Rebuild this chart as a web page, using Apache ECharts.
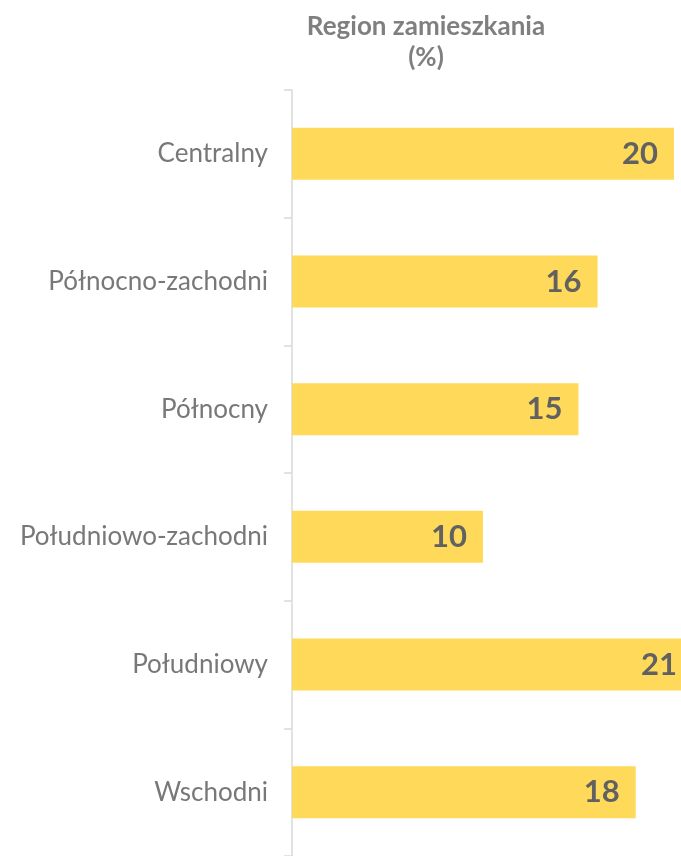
<!DOCTYPE html>
<html>
<head>
<meta charset="utf-8">
<script src="https://cdn.jsdelivr.net/npm/echarts@6/dist/echarts.min.js"></script>
<style>
html, body { margin: 0; padding: 0; background: #fff; }
#chart { width: 681px; height: 856px; }
</style>
</head>
<body>
<div id="chart"></div>
<script>
var categories = ['Centralny', 'Północno-zachodni', 'Północny', 'Południowo-zachodni', 'Południowy', 'Wschodni'];
var values = [20, 16, 15, 10, 21, 18];

var chart = echarts.init(document.getElementById('chart'));

var option = {
	animation: false,
	title: {
		text: 'Region zamieszkania\n(%)',
		left: 421,
		top: 6,
		textAlign: 'center',
		textStyle: {
			fontFamily: 'Lato',
			fontSize: 26,
			fontWeight: 'bold',
			color: '#7f7f7f',
			lineHeight: 31
		}
	},
	grid: {
		left: 292,
		right: 0,
		top: 90,
		bottom: 0,
		containLabel: false
	},
	xAxis: {
		type: 'value',
		min: 0,
		max: 20.37, // 21 runs past the right edge, as in the source
		show: false
	},
	yAxis: {
		type: 'category',
		data: categories,
		inverse: true,
		axisLine: {
			show: true,
			lineStyle: { color: '#d9d9d9', width: 1.5 }
		},
		axisTick: {
			show: true,
			length: 8,
			lineStyle: { color: '#d9d9d9', width: 1.5 }
		},
		axisLabel: {
			margin: 24,
			fontFamily: 'Lato',
			fontSize: 26,
			color: '#787878'
		},
		splitLine: { show: false }
	},
	series: [{
		type: 'bar',
		data: values,
		barWidth: 52,
		clip: false,
		itemStyle: { color: '#FFD95A' },
		label: {
			show: true,
			position: 'insideRight',
			distance: 16,
			fontFamily: 'Lato',
			fontSize: 31,
			fontWeight: 'bold',
			color: '#616161'
		}
	}]
};

chart.setOption(option);
</script>
</body>
</html>
